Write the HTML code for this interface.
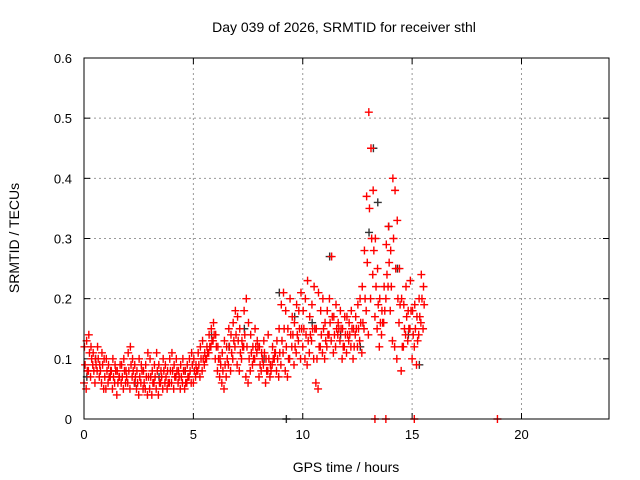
<!DOCTYPE html>
<html><head><meta charset="utf-8"><style>
body{margin:0;background:#fff;}
svg{display:block;font-family:"Liberation Sans",sans-serif;}
</style></head><body>
<svg id="chart" width="640" height="480">
<text x="344" y="32" font-size="14" text-anchor="middle" fill="#000">Day 039 of 2026, SRMTID for receiver sthl</text>
<text x="346" y="472" font-size="14" text-anchor="middle">GPS time / hours</text>
<text transform="translate(19,238) rotate(-90)" font-size="14" text-anchor="middle">SRMTID / TECUs</text>
<g id="grid"></g>
<g id="ticks"></g>
<g id="marks"></g>
<rect x="84" y="58" width="525" height="361" fill="none" stroke="#000" stroke-width="1"/>
</svg>
<script>
const xTicks=[0,5,10,15,20];
const yTicks=[0,0.1,0.2,0.3,0.4,0.5,0.6];
const tStart=0, tStep=0.1;
const lowVals=[.06,.05,.08,.07,.09,.06,.08,.07,.06,.05,
.05,.06,.07,.05,.06,.04,.07,.06,.05,.06,
.06,.05,.07,.06,.05,.04,.06,.05,.05,.04,
.05,.04,.06,.05,.04,.06,.05,.06,.05,.06,
.06,.05,.07,.06,.05,.06,.05,.06,.07,.06,
.06,.07,.08,.07,.08,.09,.10,.11,.12,.13,
.10,.08,.07,.06,.05,.07,.09,.08,.10,.12,
.09,.08,.10,.12,.07,.06,.08,.09,.10,.11,
.07,.08,.09,.06,.08,.07,.09,.10,.08,.07,
.09,.11,.08,.07,.10,.12,.09,.11,.13,.10,
.12,.10,.09,.11,.13,.10,.06,.05,.12,.11,
.10,.12,.14,.13,.11,.12,.14,.13,.10,.12,
.11,.13,.12,.10,.14,.12,.13,.11,.15,.18,
.14,.20,.24,.17,.15,.12,.14,.16,.20,.22,
.18,.13,.12,.10,.16,.08,.12,.14,.13,.15,
.10,.12,.09,.14,.16,.15];
const highVals=[.12,.13,.14,.12,.11,.10,.12,.09,.11,.10,
.10,.09,.08,.10,.09,.08,.07,.09,.10,.08,
.11,.12,.10,.09,.08,.10,.09,.08,.09,.11,
.10,.08,.09,.11,.09,.08,.10,.09,.08,.10,
.11,.09,.10,.08,.09,.10,.08,.09,.10,.11,
.10,.09,.11,.12,.13,.11,.12,.14,.15,.16,
.14,.12,.10,.11,.13,.12,.15,.14,.16,.18,
.17,.15,.13,.18,.20,.16,.14,.12,.15,.13,
.12,.11,.13,.10,.14,.09,.12,.11,.13,.15,
.19,.21,.18,.15,.20,.17,.16,.19,.18,.21,
.18,.20,.23,.17,.19,.22,.15,.21,.18,.20,
.16,.18,.20,.27,.17,.19,.16,.18,.15,.17,
.17,.16,.18,.15,.17,.19,.20,.22,.28,.37,
.51,.45,.38,.30,.25,.20,.18,.22,.29,.32,
.28,.40,.38,.33,.25,.20,.19,.22,.18,.23,
.18,.19,.17,.20,.24,.22];
const midVals=[.09,.08,.11,.10,.08,.09,.10,.08,.09,.07,
.08,.07,.08,.07,.08,.06,.09,.07,.08,.07,
.08,.09,.08,.07,.06,.07,.08,.06,.07,.07,
.07,.06,.07,.08,.06,.07,.08,.07,.06,.08,
.08,.07,.08,.07,.07,.08,.06,.07,.08,.09,
.08,.08,.09,.10,.10,.10,.11,.12,.13,.14,
.12,.10,.09,.08,.09,.10,.12,.11,.13,.14,
.13,.11,.12,.14,.12,.10,.11,.10,.12,.12,
.09,.10,.11,.08,.10,.08,.10,.11,.10,.11,
.13,.15,.12,.10,.14,.14,.12,.14,.15,.15,
.15,.14,.13,.14,.15,.15,.10,.12,.14,.15,
.13,.14,.16,.17,.14,.15,.15,.15,.12,.14,
.14,.14,.15,.12,.15,.15,.16,.16,.20,.26,
.35,.30,.28,.22,.19,.16,.16,.18,.24,.26,
.22,.30,.25,.20,.19,.12,.15,.17,.15,.18,
.14,.15,.13,.17,.20,.19];
const blackT=[0.1,0.5,1.2,2.3,3.4,4.6,5.8,6.6,7.3,8.2,8.9,9.6,10.4,11.2,11.7,12.6,13.0,13.2,13.4,13.9,14.3,14.8,15.3];
const blackV=[0.07,0.10,0.08,0.06,0.07,0.08,0.14,0.12,0.15,0.10,0.21,0.17,0.16,0.27,0.14,0.12,0.31,0.45,0.36,0.32,0.25,0.14,0.09];
const zeroRedT=[13.3,13.8,15.1,18.9];
const zeroBlackT=[9.25];

const X0=84,X1=609,Y0=419,Y1=58;
const xs=t=>X0+(t-0)/24*(X1-X0);
const ys=v=>Y0-(v/0.6)*(Y0-Y1);
const NS="http://www.w3.org/2000/svg";
const grid=document.getElementById('grid'),ticks=document.getElementById('ticks'),marks=document.getElementById('marks');
function mk(tag,attrs,parent){const e=document.createElementNS(NS,tag);for(const k in attrs)e.setAttribute(k,attrs[k]);parent.appendChild(e);return e;}
xTicks.forEach(t=>{
  const x=xs(t);
  if(t>0){const g=mk('line',{x1:x,x2:x,y1:Y1,y2:Y0,stroke:'#999','stroke-dasharray':'2,3'},grid);
  
  }
  mk('line',{x1:x,x2:x,y1:Y0,y2:Y0-6,stroke:'#000'},ticks);
  mk('line',{x1:x,x2:x,y1:Y1,y2:Y1+6,stroke:'#000'},ticks);
  const tx=mk('text',{x:x,y:Y0+20,'font-size':13,'text-anchor':'middle'},ticks);
  tx.textContent=t;
  
  
});
yTicks.forEach(v=>{
  const y=ys(v);
  if(v>0&&v<0.6){const g=mk('line',{x1:X0,x2:X1,y1:y,y2:y,stroke:'#999','stroke-dasharray':'2,3'},grid);
  
  }
  mk('line',{x1:X0,x2:X0+6,y1:y,y2:y,stroke:'#000'},ticks);
  mk('line',{x1:X1,x2:X1-6,y1:y,y2:y,stroke:'#000'},ticks);
  const tx=mk('text',{x:X0-12,y:y+5,'font-size':13,'text-anchor':'end'},ticks);
  tx.textContent=v===0?'0':v.toFixed(1);
  
  
});
function plus(t,v,col){
  const x=xs(t),y=ys(v);
  const p=mk('path',{d:`M${x-4},${y}H${x+4}M${x},${y-4}V${y+4}`,stroke:col,'stroke-width':1.4,fill:'none'},marks);
  
  
}
blackT.forEach((t,i)=>plus(t+0.03,blackV[i],'#333'));
zeroBlackT.forEach(t=>plus(t,0,'#333'));
lowVals.forEach((v,i)=>plus(tStart+i*tStep,v,'#f00'));
midVals.forEach((v,i)=>plus(tStart+i*tStep+0.05,v,'#f00'));
highVals.forEach((v,i)=>plus(tStart+i*tStep+0.02,v,'#f00'));
zeroRedT.forEach(t=>plus(t,0,'#f00'));
</script>
</body></html>
